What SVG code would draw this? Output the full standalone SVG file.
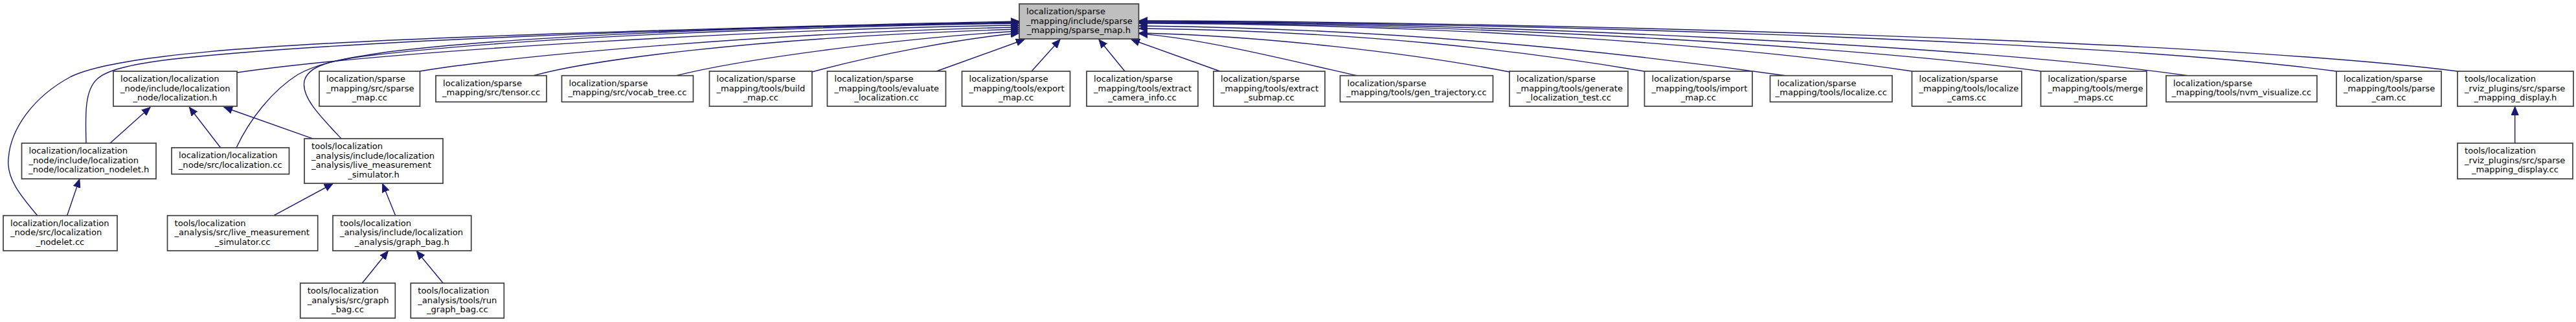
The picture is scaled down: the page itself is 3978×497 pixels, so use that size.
<svg xmlns="http://www.w3.org/2000/svg" width="3978" height="497" viewBox="0 0 3978 497">
<defs>
<marker id="ah" markerUnits="userSpaceOnUse" markerWidth="14" markerHeight="12" viewBox="0 0 14 12" refX="13" refY="6" orient="auto">
<path d="M0,0.5 L13,6 L0,11.5 z" fill="#191970" stroke="#191970" stroke-width="1"/>
</marker>
</defs>
<style>
.node rect{fill:#ffffff;stroke:#3c3c3c;stroke-width:1.7}
.node.root rect{fill:#bfbfbf}
text{font-family:"DejaVu Sans","Liberation Sans",sans-serif;font-size:13.1px;fill:#000}
.c{text-anchor:middle}
.edges path{fill:none;stroke:#191970;stroke-width:1.4;marker-end:url(#ah)}
</style>
<rect width="3978" height="497" fill="#ffffff"/>
<g class="edges" id="edges">
<!-- left side into root -->
<path d="M58,333 C30,300 10,275 13,245 C16,200 50,150 110,118 C180,85 400,70 700,58 C1000,46 1400,36 1574,33"/>
<path d="M133,221 C132,180 130,140 150,122 C165,108 200,100 260,92 C500,65 1000,45 1574,34"/>
<path d="M365,228 C385,185 420,140 460,115 C490,98 530,90 600,80 C800,55 1200,40 1574,35"/>
<path d="M527,214 C495,180 465,150 470,125 C475,105 500,95 560,87 C800,58 1200,42 1574,36"/>
<path d="M366,112 C600,78 1200,44 1574,39"/>
<path d="M648,110 C800,85 1200,50 1574,42"/>
<path d="M823,117 C900,95 1150,58 1574,45"/>
<path d="M1043,117 C1150,90 1400,58 1574,48"/>
<path d="M1254,111 C1350,85 1480,60 1574,51"/>
<!-- bottom into root -->
<path d="M1446,110 L1582,61"/>
<path d="M1593,110 L1637,61"/>
<path d="M1737,110 L1697,61"/>
<path d="M1884,110 L1747,61"/>
<!-- right side into root -->
<path d="M2096,117 C2000,95 1850,58 1759,52"/>
<path d="M2331,111 C2180,82 1950,55 1759,51"/>
<path d="M2539,110 C2350,78 2100,48 1759,44"/>
<path d="M2759,117 C2500,80 2150,44 1759,40"/>
<path d="M2953,110 C2700,72 2250,37 1759,36"/>
<path d="M3152,110 C2900,75 2300,36 1759,35"/>
<path d="M3380,117 C3050,70 2300,35 1759,34"/>
<path d="M3608,110 C3250,62 2300,34 1759,33"/>
<path d="M3795,110 C3400,60 2300,33 1759,32"/>
<!-- lower edges -->
<path d="M170,221 L232,165.5"/>
<path d="M340.6,228 L292.4,165.5"/>
<path d="M482,213.7 L346,165.5"/>
<path d="M103.6,332.7 L122.8,276.5"/>
<path d="M423.3,332.3 L514,283.5"/>
<path d="M610.7,332.7 L590.7,283.5"/>
<path d="M559.3,437 L599.3,387.5"/>
<path d="M684.3,437 L643.3,387.5"/>
<path d="M3883.7,221 L3883.7,164.5"/>
</g>
<g class="node root" id="node_root"><rect x="1574" y="6" width="184.5" height="54"/>
<text x="1585" y="22">localization/sparse</text><text x="1585" y="36.5">_mapping/include/sparse</text><text class="c" x="1666" y="51">_mapping/sparse_map.h</text></g>
<g class="node" id="node_loc_h"><rect x="175" y="110" width="191" height="54"/>
<text x="186" y="126">localization/localization</text><text x="186" y="140.5">_node/include/localization</text><text class="c" x="270.5" y="155">_node/localization.h</text></g>
<g class="node" id="node_sparse_map_cc"><rect x="493" y="110" width="155.5" height="54"/>
<text x="504" y="126">localization/sparse</text><text x="504" y="140.5">_mapping/src/sparse</text><text class="c" x="570.75" y="155">_map.cc</text></g>
<g class="node" id="node_tensor"><rect x="673" y="116.7" width="171" height="40.6"/>
<text x="684" y="132.7">localization/sparse</text><text class="c" x="758.5" y="147.2">_mapping/src/tensor.cc</text></g>
<g class="node" id="node_vocab"><rect x="867.5" y="116.7" width="203" height="40.6"/>
<text x="878.5" y="132.7">localization/sparse</text><text class="c" x="969" y="147.2">_mapping/src/vocab_tree.cc</text></g>
<g class="node" id="node_build"><rect x="1095.5" y="110" width="158.5" height="54"/>
<text x="1106.5" y="126">localization/sparse</text><text x="1106.5" y="140.5">_mapping/tools/build</text><text class="c" x="1174.75" y="155">_map.cc</text></g>
<g class="node" id="node_eval"><rect x="1277.5" y="110" width="183" height="54"/>
<text x="1288.5" y="126">localization/sparse</text><text x="1288.5" y="140.5">_mapping/tools/evaluate</text><text class="c" x="1369" y="155">_localization.cc</text></g>
<g class="node" id="node_export"><rect x="1485.5" y="110" width="167" height="54"/>
<text x="1496.5" y="126">localization/sparse</text><text x="1496.5" y="140.5">_mapping/tools/export</text><text class="c" x="1569" y="155">_map.cc</text></g>
<g class="node" id="node_extract_cam"><rect x="1678" y="110" width="172" height="54"/>
<text x="1689" y="126">localization/sparse</text><text x="1689" y="140.5">_mapping/tools/extract</text><text class="c" x="1764" y="155">_camera_info.cc</text></g>
<g class="node" id="node_submap"><rect x="1874" y="110" width="172" height="54"/>
<text x="1885" y="126">localization/sparse</text><text x="1885" y="140.5">_mapping/tools/extract</text><text class="c" x="1960" y="155">_submap.cc</text></g>
<g class="node" id="node_gen_traj"><rect x="2069.5" y="116.7" width="236" height="40.6"/>
<text x="2080.5" y="132.7">localization/sparse</text><text class="c" x="2187.5" y="147.2">_mapping/tools/gen_trajectory.cc</text></g>
<g class="node" id="node_gen_loc_test"><rect x="2331" y="110" width="183" height="54"/>
<text x="2342" y="126">localization/sparse</text><text x="2342" y="140.5">_mapping/tools/generate</text><text class="c" x="2422.5" y="155">_localization_test.cc</text></g>
<g class="node" id="node_import"><rect x="2539.5" y="110" width="166.5" height="54"/>
<text x="2550.5" y="126">localization/sparse</text><text x="2550.5" y="140.5">_mapping/tools/import</text><text class="c" x="2622.75" y="155">_map.cc</text></g>
<g class="node" id="node_localize"><rect x="2733.5" y="116.7" width="188.5" height="40.6"/>
<text x="2744.5" y="132.7">localization/sparse</text><text class="c" x="2827.75" y="147.2">_mapping/tools/localize.cc</text></g>
<g class="node" id="node_localize_cams"><rect x="2952.5" y="110" width="169.5" height="54"/>
<text x="2963.5" y="126">localization/sparse</text><text x="2963.5" y="140.5">_mapping/tools/localize</text><text class="c" x="3037.25" y="155">_cams.cc</text></g>
<g class="node" id="node_merge"><rect x="3151.5" y="110" width="163.5" height="54"/>
<text x="3162.5" y="126">localization/sparse</text><text x="3162.5" y="140.5">_mapping/tools/merge</text><text class="c" x="3233.25" y="155">_maps.cc</text></g>
<g class="node" id="node_nvm"><rect x="3345" y="116.7" width="233" height="40.6"/>
<text x="3356" y="132.7">localization/sparse</text><text class="c" x="3461.5" y="147.2">_mapping/tools/nvm_visualize.cc</text></g>
<g class="node" id="node_parse"><rect x="3608" y="110" width="162" height="54"/>
<text x="3619" y="126">localization/sparse</text><text x="3619" y="140.5">_mapping/tools/parse</text><text class="c" x="3689" y="155">_cam.cc</text></g>
<g class="node" id="node_display_h"><rect x="3795" y="110" width="179" height="54"/>
<text x="3806" y="126">tools/localization</text><text x="3806" y="140.5">_rviz_plugins/src/sparse</text><text class="c" x="3884.5" y="155">_mapping_display.h</text></g>
<g class="node" id="node_nodelet_h"><rect x="33.5" y="221" width="207.5" height="55"/>
<text x="44.5" y="237">localization/localization</text><text x="44.5" y="251.5">_node/include/localization</text><text class="c" x="137.25" y="266">_node/localization_nodelet.h</text></g>
<g class="node" id="node_loc_cc"><rect x="265" y="228" width="181.5" height="40.7"/>
<text x="276" y="244">localization/localization</text><text class="c" x="355.75" y="258.5">_node/src/localization.cc</text></g>
<g class="node" id="node_live_h"><rect x="470" y="214" width="214" height="69"/>
<text x="481" y="230">tools/localization</text><text x="481" y="244.5">_analysis/include/localization</text><text x="481" y="259">_analysis/live_measurement</text><text class="c" x="577" y="273.5">_simulator.h</text></g>
<g class="node" id="node_display_cc"><rect x="3795" y="221" width="178" height="55"/>
<text x="3806" y="237">tools/localization</text><text x="3806" y="251.5">_rviz_plugins/src/sparse</text><text class="c" x="3884" y="266">_mapping_display.cc</text></g>
<g class="node" id="node_nodelet_cc"><rect x="5" y="332.7" width="176" height="54.3"/>
<text x="16" y="348.7">localization/localization</text><text x="16" y="363.2">_node/src/localization</text><text class="c" x="93" y="377.7">_nodelet.cc</text></g>
<g class="node" id="node_live_cc"><rect x="258.5" y="332.7" width="232.2" height="54.3"/>
<text x="269.5" y="348.7">tools/localization</text><text x="269.5" y="363.2">_analysis/src/live_measurement</text><text class="c" x="374.6" y="377.7">_simulator.cc</text></g>
<g class="node" id="node_graph_bag_h"><rect x="514" y="332.7" width="213.7" height="54.3"/>
<text x="525" y="348.7">tools/localization</text><text x="525" y="363.2">_analysis/include/localization</text><text class="c" x="620.85" y="377.7">_analysis/graph_bag.h</text></g>
<g class="node" id="node_graph_bag_cc"><rect x="463.7" y="437" width="146.6" height="54"/>
<text x="474.7" y="453">tools/localization</text><text x="474.7" y="467.5">_analysis/src/graph</text><text class="c" x="537" y="482">_bag.cc</text></g>
<g class="node" id="node_run_graph_bag"><rect x="634.3" y="437" width="144" height="54"/>
<text x="645.3" y="453">tools/localization</text><text x="645.3" y="467.5">_analysis/tools/run</text><text class="c" x="706.3" y="482">_graph_bag.cc</text></g>
</svg>
